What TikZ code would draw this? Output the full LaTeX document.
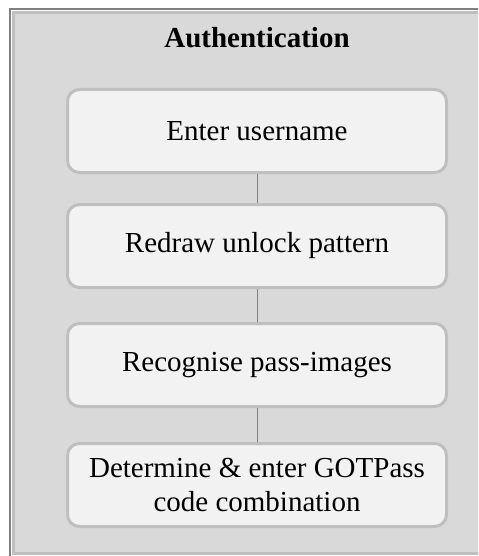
\documentclass[tikz,border=0pt]{standalone}
\usepackage{fontspec}
\setmainfont{Liberation Serif}
\usepackage{xcolor}
\usepackage{tikz}
\usetikzlibrary{positioning}
\definecolor{AuthFill}{RGB}{217,217,217}
\definecolor{AuthLine}{RGB}{191,191,191}
\definecolor{FrameDark}{RGB}{128,128,128}
\definecolor{StepFill}{RGB}{242,242,242}
\definecolor{LinkGray}{RGB}{128,128,128}

\begin{document}
\begin{tikzpicture}[x=0.75pt, y=-0.75pt,
          stepbox/.style={rectangle, rounded corners=9pt, draw=AuthLine,
                          line width=2.25pt, fill=StepFill,
                          minimum width=284.25pt, minimum height=62.25pt,
                          align=center, inner sep=0pt,
                          font=\fontsize{21.75}{25.5}\selectfont},
          link/.style={draw=LinkGray, line width=0.75pt}
        ]
        \useasboundingbox (0,0) rectangle (478,556);
        \clip (0,0) rectangle (478,556);

        % Outer group frame
        \draw[FrameDark, line width=1.5pt] (10,9) rectangle (540,600);
        \draw[draw=AuthLine, fill=AuthFill, line width=2.25pt]
              (13.8,13) rectangle (540,553);

        \node[anchor=base, font=\fontsize{21.75}{25.5}\selectfont\bfseries]
              (title) at (257,48) {Authentication};

        % Steps
        \node[stepbox] (user)    at (257,131) {Enter username};
        \node[stepbox] (pattern) at (257,246) {Redraw unlock pattern};
        \node[stepbox] (images)  at (257,365) {Recognise pass-images};
        \node[stepbox] (code)    at (257,485) {Determine \& enter GOTPass\\code combination};

        \foreach \a/\b in {user/pattern, pattern/images, images/code} {
          \draw[link] (\a) -- (\b);
        }
      \end{tikzpicture}
\end{document}
